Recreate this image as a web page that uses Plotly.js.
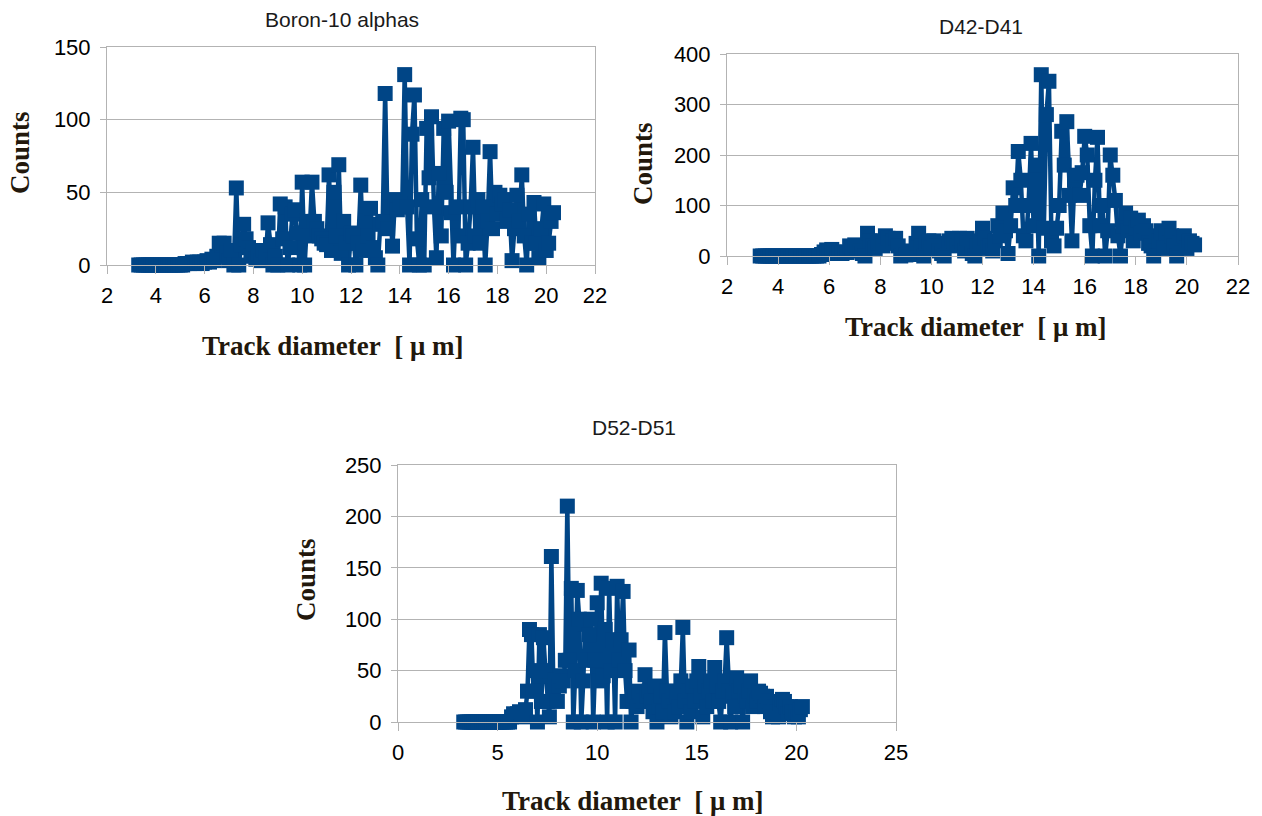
<!DOCTYPE html>
<html><head><meta charset="utf-8">
<script src="https://cdn.plot.ly/plotly-3.0.1.min.js"></script>
<style>html,body{margin:0;padding:0;background:#fff}#chart{width:1262px;height:816px}</style>
</head><body><div id="chart"></div>
<script>
// Track diameter bins (µm)
const trackDiameter = [
3.3,3.4,3.5,3.6,3.7,3.8,3.9,4.0,4.1,4.2,
4.3,4.4,4.5,4.6,4.7,4.8,4.9,5.0,5.1,5.2,
5.3,5.4,5.5,5.6,5.7,5.8,5.9,6.0,6.1,6.2,
6.3,6.4,6.5,6.6,6.7,6.8,6.9,7.0,7.1,7.2,
7.3,7.4,7.5,7.6,7.7,7.8,7.9,8.0,8.1,8.2,
8.3,8.4,8.5,8.6,8.7,8.8,8.9,9.0,9.1,9.2,
9.3,9.4,9.5,9.6,9.7,9.8,9.9,10.0,10.1,10.2,
10.3,10.4,10.5,10.6,10.7,10.8,10.9,11.0,11.1,11.2,
11.3,11.4,11.5,11.6,11.7,11.8,11.9,12.0,12.1,12.2,
12.3,12.4,12.5,12.6,12.7,12.8,12.9,13.0,13.1,13.2,
13.3,13.4,13.5,13.6,13.7,13.8,13.9,14.0,14.1,14.2,
14.3,14.4,14.5,14.6,14.7,14.8,14.9,15.0,15.1,15.2,
15.3,15.4,15.5,15.6,15.7,15.8,15.9,16.0,16.1,16.2,
16.3,16.4,16.5,16.6,16.7,16.8,16.9,17.0,17.1,17.2,
17.3,17.4,17.5,17.6,17.7,17.8,17.9,18.0,18.1,18.2,
18.3,18.4,18.5,18.6,18.7,18.8,18.9,19.0,19.1,19.2,
19.3,19.4,19.5,19.6,19.7,19.8,19.9,20.0,20.1,20.2,
20.3];

const boronCounts = [
0,0,0,0,0,0,0,0,0,0,
0,0,0,0,0,0,0,0,0,1,
1,1,2,1,2,2,1,2,3,2,
4,3,6,15,14,15,8,3,10,0,
53,0,14,28,18,12,6,10,4,8,
3,10,5,29,14,0,6,0,42,18,
40,0,12,35,38,22,0,57,0,30,
20,57,30,25,20,18,15,14,62,10,
50,20,69,8,30,15,0,22,20,0,
15,55,10,30,20,39,12,5,0,28,
30,118,25,40,13,45,38,42,40,131,
40,0,90,117,18,0,45,0,94,60,
102,40,5,63,20,94,50,99,36,0,
40,20,101,100,0,15,40,81,20,45,
15,40,0,30,78,25,50,35,48,42,
45,30,38,3,25,48,30,62,20,0,
35,15,43,15,5,25,42,10,15,30,
36];

const d42d41Counts = [
0,0,0,0,0,0,0,0,0,0,
0,0,0,0,0,0,0,0,0,0,
0,0,0,0,3,8,12,10,13,8,
5,6,5,8,7,20,15,22,18,10,
5,0,45,30,20,15,25,30,20,40,
35,25,30,35,20,0,5,2,10,5,
3,25,45,20,0,25,30,15,30,20,
10,5,0,25,30,35,30,20,35,30,
10,35,25,5,0,20,30,55,35,15,
20,10,30,60,40,85,50,5,60,135,
100,207,150,40,30,100,223,60,180,0,
359,55,280,346,30,20,55,100,247,180,
266,120,30,150,160,120,165,237,200,60,
0,150,235,60,100,0,50,200,160,110,
40,0,60,85,50,75,30,55,71,45,
60,50,25,20,0,40,30,50,15,45,
55,40,20,0,25,35,40,15,30,25,
22];

const d52d51Counts = [
0,0,0,0,0,0,0,0,0,0,
0,0,0,0,0,0,0,0,0,0,
0,0,0,0,5,8,6,8,10,8,
5,12,30,90,85,30,50,0,85,20,
82,50,20,5,161,30,41,20,35,45,
40,60,210,60,130,0,50,128,100,0,
40,95,60,85,100,0,60,116,40,135,
45,90,0,130,50,80,0,132,60,80,
127,50,20,70,0,20,25,15,30,25,
20,46,25,30,20,10,35,0,15,25,
10,87,30,20,5,30,10,25,15,40,
92,20,0,30,10,35,20,40,54,25,
5,35,15,30,40,20,53,35,20,0,
30,40,82,30,0,25,15,43,30,35,
0,25,20,30,40,15,25,20,30,28,
25,15,25,20,10,5,15,10,5,18,
22,20,15,8,15,10,5,10,5,12,
15];

const panelTitles = ['Boron-10 alphas', 'D42-D41', 'D52-D51'];
const xAxisTitle = 'Track diameter\u00a0\u00a0[\u00a0\u03bc\u00a0m]';
const yAxisTitle = 'Counts';
const xRanges = [[2, 22], [2, 22], [0, 25]];
const yRanges = [[0, 150], [0, 400], [0, 250]];
const xSteps = [2, 2, 5];
const ySteps = [50, 100, 50];

const W = 1262, H = 816;
const fx = p => p / W;
const fy = p => 1 - p / H;

// plot boxes in pixels: [left, right, top, bottom]
const boxes = [[107, 595, 47, 265], [727, 1238, 54, 256], [398, 896, 465, 722]];

const blue = '#004586';
const grey = '#b3b3b3';
const tickFont = {family: 'Liberation Sans, Arial, sans-serif', size: 22, color: '#000'};
const axTitleFont = {family: 'Liberation Serif, Times New Roman, serif', size: 27, color: '#22180c'};
const panelFont = {family: 'Liberation Sans, Arial, sans-serif', size: 21, color: '#1a1a1a'};

const series = [boronCounts, d42d41Counts, d52d51Counts];
const traces = series.map((ys, k) => ({
  type: 'scatter', mode: 'lines+markers',
  x: trackDiameter, y: ys,
  xaxis: k === 0 ? 'x' : 'x' + (k + 1),
  yaxis: k === 0 ? 'y' : 'y' + (k + 1),
  line: {color: blue, width: 4.5},
  marker: {symbol: 'square', size: 15, color: blue, line: {width: 0}},
  cliponaxis: false,
  showlegend: false,
  hoverinfo: 'x+y'
}));

const layout = {
  width: W, height: H,
  margin: {l: 0, r: 0, t: 0, b: 0},
  paper_bgcolor: '#fff', plot_bgcolor: '#fff',
  showlegend: false,
  annotations: []
};

// title / axis-title pixel positions: [titleX, titleY, xTitleX, xTitleY, yTitleX, yTitleY]
const labelPos = [
  [342, 19, 332, 346, 20, 153],
  [981, 27, 975, 327, 643, 163],
  [634, 427, 632, 801, 306, 580]
];

for (let k = 0; k < 3; k++) {
  const b = boxes[k];
  const xs = k === 0 ? 'xaxis' : 'xaxis' + (k + 1);
  const ysn = k === 0 ? 'yaxis' : 'yaxis' + (k + 1);
  const yref = k === 0 ? 'y' : 'y' + (k + 1);
  const xref = k === 0 ? 'x' : 'x' + (k + 1);
  layout[xs] = {
    domain: [fx(b[0]), fx(b[1])], anchor: yref,
    range: xRanges[k], dtick: xSteps[k], tick0: 0,
    showgrid: false, zeroline: false,
    showline: true, linecolor: grey, linewidth: 1, mirror: true,
    ticks: 'outside', ticklen: 8, tickcolor: grey, tickwidth: 1,
    tickfont: tickFont, ticklabelstandoff: 3, fixedrange: true
  };
  layout[ysn] = {
    domain: [fy(b[3]), fy(b[2])], anchor: xref,
    range: yRanges[k], dtick: ySteps[k], tick0: 0,
    showgrid: true, gridcolor: grey, gridwidth: 1, zeroline: false,
    showline: true, linecolor: grey, linewidth: 1, mirror: true,
    ticks: 'outside', ticklen: 6, tickcolor: grey, tickwidth: 1,
    tickfont: tickFont, ticklabelstandoff: 5, fixedrange: true
  };
  const p = labelPos[k];
  layout.annotations.push({
    text: panelTitles[k], xref: 'paper', yref: 'paper',
    x: fx(p[0]), y: fy(p[1]), xanchor: 'center', yanchor: 'middle',
    showarrow: false, font: panelFont
  });
  layout.annotations.push({
    text: '<b>' + xAxisTitle + '</b>', xref: 'paper', yref: 'paper',
    x: fx(p[2]), y: fy(p[3]), xanchor: 'center', yanchor: 'middle',
    showarrow: false, font: axTitleFont
  });
  layout.annotations.push({
    text: '<b>' + yAxisTitle + '</b>', xref: 'paper', yref: 'paper',
    x: fx(p[4]), y: fy(p[5]), xanchor: 'center', yanchor: 'middle',
    textangle: -90, showarrow: false, font: axTitleFont
  });
}

Plotly.newPlot('chart', traces, layout, {staticPlot: true, displayModeBar: false});
</script>
</body></html>
